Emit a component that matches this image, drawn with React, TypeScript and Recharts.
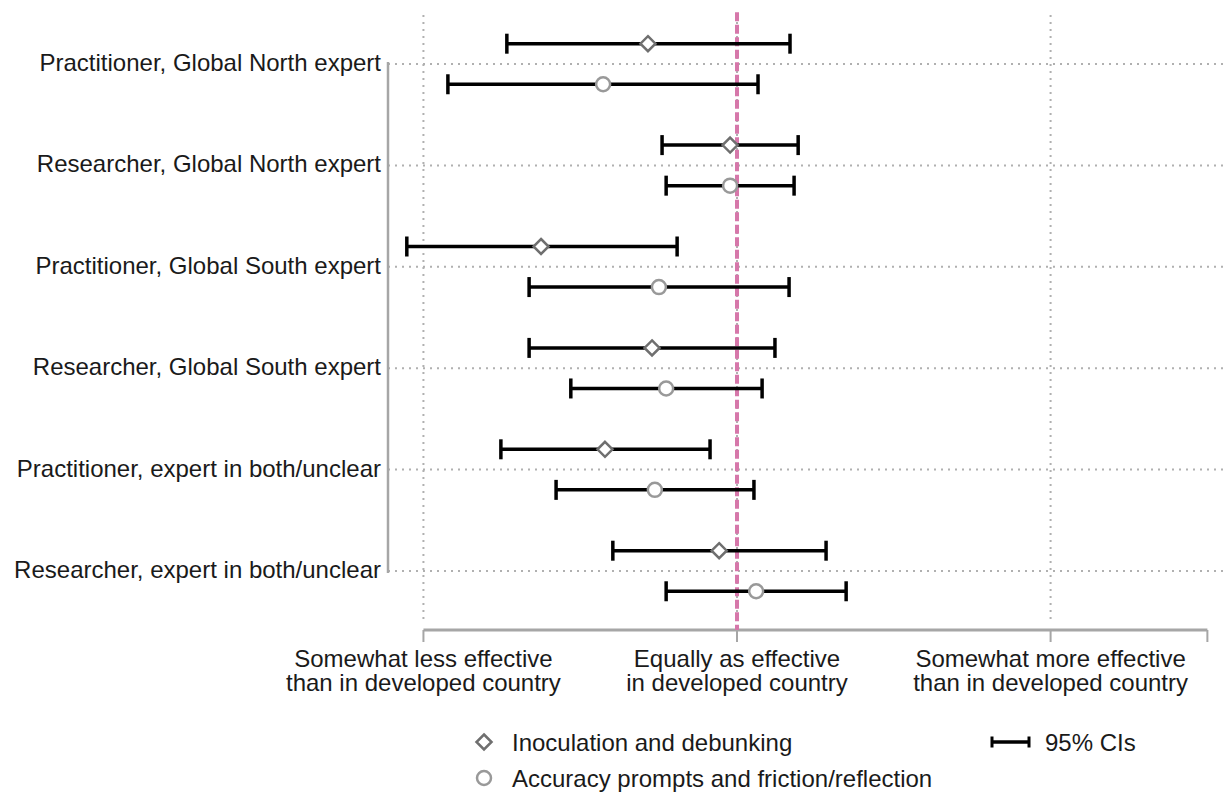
import React from "react";
import {
  ScatterChart,
  Scatter,
  XAxis,
  YAxis,
  ReferenceLine,
  ErrorBar,
} from "recharts";

const categories = [
  "Practitioner, Global North expert",
  "Researcher, Global North expert",
  "Practitioner, Global South expert",
  "Researcher, Global South expert",
  "Practitioner, expert in both/unclear",
  "Researcher, expert in both/unclear",
];

// Inoculation and debunking (diamonds)
const inocEst = [-0.284, -0.022, -0.625, -0.271, -0.421, -0.057];
const inocLo = [-0.734, -0.239, -1.053, -0.663, -0.753, -0.396];
const inocHi = [0.169, 0.195, -0.191, 0.121, -0.086, 0.284];

// Accuracy prompts and friction/reflection (circles)
const accEst = [-0.427, -0.022, -0.249, -0.226, -0.262, 0.061];
const accLo = [-0.922, -0.226, -0.663, -0.53, -0.577, -0.226];
const accHi = [0.067, 0.182, 0.166, 0.08, 0.054, 0.348];

const xTicks = [-1, 0, 1, 1.5];
const xTickLabels: Record<string, string[]> = {
  "-1": ["Somewhat less effective", "than in developed country"],
  "0": ["Equally as effective", "in developed country"],
  "1": ["Somewhat more effective", "than in developed country"],
};
const yTicks = [0, 1, 2, 3, 4, 5];

const FONT = '"Liberation Sans", Arial, sans-serif';
const FS = 24;
const TEXT = "#1a1a1a";
const AXIS_GRAY = "#a6a6a6";
const GRID_GRAY = "#b0b0b0";
const PINK = "#d677aa";
const DIAMOND_GRAY = "#6f6f6f";
const CIRCLE_GRAY = "#999999";

const X_DOMAIN: [number, number] = [-1.113, 1.553];
const Y_DOMAIN: [number, number] = [-0.483, 5.582];
const OFFSET = 0.2;

const inocData = categories.map((c, i) => ({
  name: c,
  x: inocEst[i],
  y: i - OFFSET,
  err: [inocEst[i] - inocLo[i], inocHi[i] - inocEst[i]],
}));

const accData = categories.map((c, i) => ({
  name: c,
  x: accEst[i],
  y: i + OFFSET,
  err: [accEst[i] - accLo[i], accHi[i] - accEst[i]],
}));

const Diamond = (props: any) => {
  const { cx, cy } = props;
  const r = 7.5;
  return (
    <path
      d={`M${cx},${cy - r}L${cx + r},${cy}L${cx},${cy + r}L${cx - r},${cy}Z`}
      fill="#fff"
      stroke={DIAMOND_GRAY}
      strokeWidth={2.5}
    />
  );
};

const Circle = (props: any) => {
  const { cx, cy } = props;
  return <circle cx={cx} cy={cy} r={7} fill="#fff" stroke={CIRCLE_GRAY} strokeWidth={2.5} />;
};

const YTick = (props: any) => {
  const { x, y, payload } = props;
  return (
    <text x={x} y={y} dy={7} textAnchor="end" fontSize={FS} fontFamily={FONT} fill={TEXT}>
      {categories[payload.value]}
    </text>
  );
};

const XTick = (props: any) => {
  const { x, y, payload } = props;
  const lines = xTickLabels[String(payload.value)];
  if (!lines) return null;
  return (
    <text x={x} y={y} textAnchor="middle" fontSize={FS} fontFamily={FONT} fill={TEXT}>
      <tspan x={x} dy={19}>{lines[0]}</tspan>
      <tspan x={x} dy={24}>{lines[1]}</tspan>
    </text>
  );
};

const Legend = () => (
  <svg width={1224} height={90} style={{ position: "absolute", left: 0, top: 710 }}>
    <path d="M484,24.5L491.5,32L484,39.5L476.5,32Z" fill="#fff" stroke={DIAMOND_GRAY} strokeWidth={2.5} />
    <text x={512} y={40.5} fontSize={FS} fontFamily={FONT} fill={TEXT}>
      Inoculation and debunking
    </text>
    <circle cx={484} cy={68} r={7} fill="#fff" stroke={CIRCLE_GRAY} strokeWidth={2.5} />
    <text x={512} y={76.5} fontSize={FS} fontFamily={FONT} fill={TEXT}>
      Accuracy prompts and friction/reflection
    </text>
    <line x1={992} y1={32} x2={1029} y2={32} stroke="#000" strokeWidth={3.5} />
    <line x1={992} y1={26.5} x2={992} y2={37.5} stroke="#000" strokeWidth={3} />
    <line x1={1029} y1={26.5} x2={1029} y2={37.5} stroke="#000" strokeWidth={3} />
    <text x={1045} y={40.5} fontSize={FS} fontFamily={FONT} fill={TEXT}>
      95% CIs
    </text>
  </svg>
);

export default function App() {
  return (
    <div style={{ position: "absolute", left: 0, top: 0, width: 1224, height: 793, background: "#fff" }}>
      <ScatterChart width={1224} height={793} margin={{ top: 15, right: 0, bottom: 0, left: 0 }}>
        <XAxis
          type="number"
          dataKey="x"
          domain={X_DOMAIN}
          ticks={xTicks}
          allowDataOverflow
          axisLine={false}
          tickLine={{ stroke: AXIS_GRAY, strokeWidth: 2 }}
          tickSize={12}
          tickMargin={6}
          height={163}
          tick={<XTick />}
          interval={0}
        />
        <YAxis
          type="number"
          dataKey="y"
          domain={Y_DOMAIN}
          ticks={yTicks}
          reversed
          allowDataOverflow
          axisLine={false}
          tickLine={false}
          tickSize={6}
          tickMargin={1}
          width={388}
          tick={<YTick />}
          interval={0}
        />
        {/* dotted horizontal gridlines at each category */}
        {yTicks.map((v) => (
          <ReferenceLine
            key={`h${v}`}
            y={v}
            stroke={GRID_GRAY}
            strokeWidth={2}
            strokeDasharray="2 5"
          />
        ))}
        {/* dotted vertical gridlines */}
        {[-1, 0, 1].map((v) => (
          <ReferenceLine
            key={`v${v}`}
            segment={[
              { x: v, y: Y_DOMAIN[0] },
              { x: v, y: 5.51 },
            ]}
            stroke={GRID_GRAY}
            strokeWidth={2}
            strokeDasharray="2 5"
          />
        ))}
        {/* bottom axis line, from -1 to 1.5 */}
        <ReferenceLine
          segment={[
            { x: -1, y: Y_DOMAIN[1] },
            { x: 1.5, y: Y_DOMAIN[1] },
          ]}
          stroke={AXIS_GRAY}
          strokeWidth={3}
          ifOverflow="visible"
        />
        {/* left axis line spanning the categories */}
        <ReferenceLine
          segment={[
            { x: X_DOMAIN[0], y: -0.02 },
            { x: X_DOMAIN[0], y: 5.02 },
          ]}
          stroke={AXIS_GRAY}
          strokeWidth={2.5}
          ifOverflow="visible"
        />
        <ReferenceLine
          segment={[
            { x: 0, y: -0.02 - 0.49 },
            { x: 0, y: Y_DOMAIN[1] },
          ]}
          stroke={PINK}
          strokeWidth={4}
          strokeDasharray="9 3.5"
          ifOverflow="visible"
        />
        <Scatter data={inocData} shape={<Diamond />} isAnimationActive={false}>
          <ErrorBar dataKey="err" direction="x" width={10} strokeWidth={3.5} stroke="#000" />
        </Scatter>
        <Scatter data={accData} shape={<Circle />} isAnimationActive={false}>
          <ErrorBar dataKey="err" direction="x" width={10} strokeWidth={3.5} stroke="#000" />
        </Scatter>
      </ScatterChart>
      <Legend />
    </div>
  );
}
